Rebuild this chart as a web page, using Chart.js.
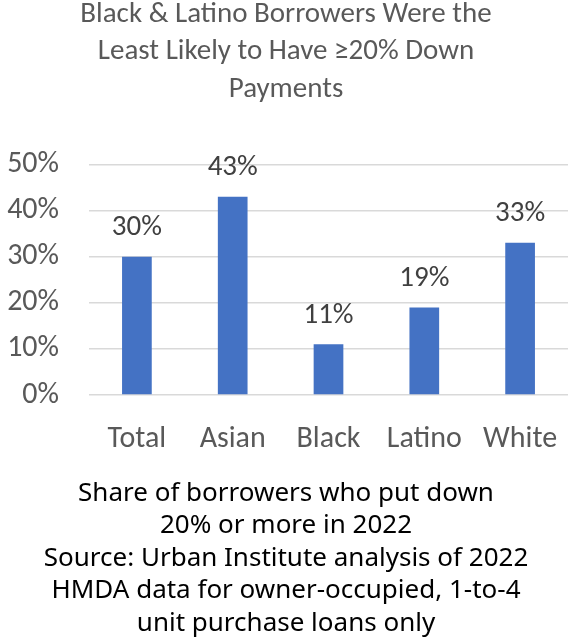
<!DOCTYPE html>
<html>
<head>
<meta charset="utf-8">
<script src="https://cdn.jsdelivr.net/npm/chart.js@4.4.1/dist/chart.umd.min.js"></script>
<style>
  html, body { margin: 0; padding: 0; background: #fff; }
  #wrap { width: 568px; height: 642px; }
</style>
</head>
<body>
<div id="wrap"><canvas id="downChart"></canvas></div>
<script>
const groups = ['Total', 'Asian', 'Black', 'Latino', 'White'];
const shareDown20 = [30, 43, 11, 19, 33];
const yTicks = [0, 10, 20, 30, 40, 50];

const titleLines = [
    'Black & Latino Borrowers Were the',
    'Least Likely to Have \u226520% Down',
    'Payments'
];
const captionLines = [
    'Share of borrowers who put down',
    '20% or more in 2022',
    'Source: Urban Institute analysis of 2022',
    'HMDA data for owner-occupied, 1-to-4',
    'unit purchase loans only'
];

const labelFont = "Carlito, Lato, sans-serif";

// draws the % above each bar
const barLabels = {
    id: 'barLabels',
    afterDatasetsDraw(chart) {
        const ctx = chart.ctx;
        const meta = chart.getDatasetMeta(0);
        ctx.save();
        ctx.font = '29px ' + labelFont;
        ctx.fillStyle = '#404040';
        ctx.textAlign = 'center';
        ctx.textBaseline = 'middle';
        meta.data.forEach((bar, i) => {
            ctx.fillText(shareDown20[i] + '%', bar.x, bar.y - 29);
        });
        ctx.restore();
    }
};

const ctx = document.getElementById('downChart').getContext('2d');

new Chart(ctx, {
    type: 'bar',
    data: {
        labels: groups,
        datasets: [{
            data: shareDown20,
            backgroundColor: '#4472C4',
            barPercentage: 0.31,
            categoryPercentage: 1
        }]
    },
    options: {
        responsive: true,
        maintainAspectRatio: false,
        animation: false,
        layout: {
            padding: { top: -4, left: 4, right: 0, bottom: 2.5 }
        },
        plugins: {
            legend: { display: false },
            tooltip: { enabled: false },
            title: {
                display: true,
                text: titleLines,
                color: '#595959',
                font: { family: labelFont, size: 29, weight: 'normal', lineHeight: 1.293 },
                padding: { top: 0, bottom: 56 }
            },
            subtitle: {
                display: true,
                position: 'bottom',
                text: captionLines,
                color: '#000',
                font: { family: "'Noto Sans', sans-serif", size: 26, weight: 'normal', lineHeight: 1.25 },
                padding: { top: 26, bottom: 0 }
            }
        },
        scales: {
            x: {
                grid: { display: false },
                border: { display: false },
                afterFit(axis) {
                    axis.height = 56;
                    axis.paddingLeft = 0;
                    axis.paddingRight = 0;
                },
                ticks: {
                    color: '#595959',
                    font: { family: labelFont, size: 30 },
                    padding: 18,
                    maxRotation: 0
                }
            },
            y: {
                min: 0,
                max: 50,
                afterBuildTicks(axis) {
                    axis.ticks = yTicks.map(v => ({ value: v }));
                },
                afterFit(axis) {
                    axis.width = 85;
                },
                grid: { color: '#d9d9d9', lineWidth: 1.5, drawTicks: false },
                border: { display: false },
                ticks: {
                    color: '#595959',
                    font: { family: labelFont, size: 30 },
                    padding: 30,
                    callback: v => v + '%'
                }
            }
        }
    },
    plugins: [barLabels]
});
</script>
</body>
</html>
